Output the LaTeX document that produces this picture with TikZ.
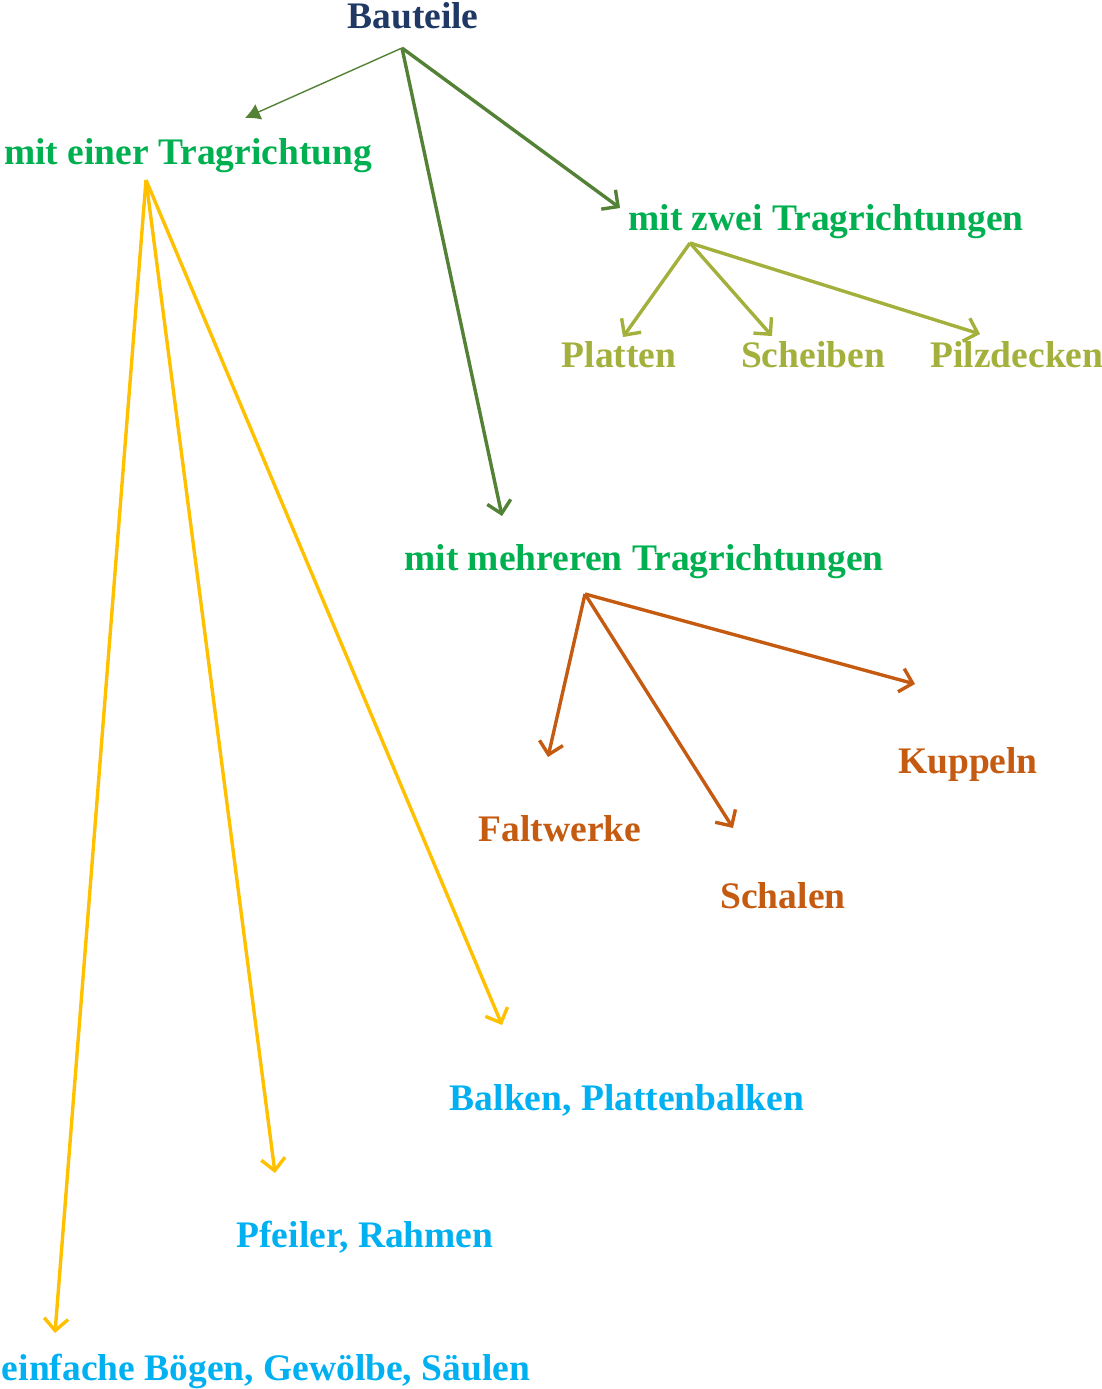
\documentclass[tikz,border=0pt]{standalone}
\usepackage{fontspec}
\setmainfont{Liberation Serif}
\usetikzlibrary{arrows.meta}
\definecolor{navy}{HTML}{1F3864}
\definecolor{leaf}{HTML}{00B050}
\definecolor{moss}{HTML}{538135}
\definecolor{olive}{HTML}{A3B03C}
\definecolor{rust}{HTML}{C55A11}
\definecolor{sky}{HTML}{00B0F0}
\definecolor{amber}{HTML}{FFC000}
\tikzset{
  lbl/.style={anchor=base, inner sep=0pt, font=\fontsize{37.5}{44}\selectfont\bfseries},
  barb/.style={line width=3.4pt, -{Straight Barb[length=12pt,width=24pt,line width=3.4pt]}},
}
\begin{document}
\begin{tikzpicture}[x=1pt, y=-1pt]
\useasboundingbox (0,0) rectangle (1102,1389);
% labels
\node[lbl, text=navy] (root) at (413,29) {Bauteile};
\node[lbl, text=leaf] (one) at (188,164) {mit einer Tragrichtung};
\node[lbl, text=leaf] (two) at (826,230) {mit zwei Tragrichtungen};
\node[lbl, text=leaf] (many) at (644,570) {mit mehreren Tragrichtungen};
\node[lbl, text=olive] (platten) at (619,367) {Platten};
\node[lbl, text=olive] (scheiben) at (813,367) {Scheiben};
\node[lbl, text=olive] (pilz) at (1017,367) {Pilzdecken};
\node[lbl, text=rust] (falt) at (560,841) {Faltwerke};
\node[lbl, text=rust] (schalen) at (783,908) {Schalen};
\node[lbl, text=rust] (kuppeln) at (968,773) {Kuppeln};
\node[lbl, text=sky] (balken) at (627,1110) {Balken, Plattenbalken};
\node[lbl, text=sky] (pfeiler) at (365,1247) {Pfeiler, Rahmen};
\node[lbl, text=sky] (boegen) at (266,1380) {einfache Bögen, Gewölbe, Säulen};
% branching points and arrow ends
\coordinate (rootS) at (402,48);
\coordinate (oneS) at (146,180);
\coordinate (twoS) at (690,243);
\coordinate (manyS) at (585,594);
\coordinate (oneT) at (245,118);
\coordinate (twoT) at (620,208);
\coordinate (manyT) at (502,516);
\coordinate (plattenT) at (623,337);
\coordinate (scheibenT) at (772,336);
\coordinate (pilzT) at (980,334);
\coordinate (faltT) at (548,757);
\coordinate (schalenT) at (733,828);
\coordinate (kuppelnT) at (915,684);
\coordinate (balkenT) at (502,1025);
\coordinate (pfeilerT) at (275,1173);
\coordinate (boegenT) at (55,1333);
% connectors
\draw[moss, line width=1.4pt, -{Latex[length=15pt,width=17pt]}] (rootS) -- (oneT);
\draw[moss, barb] (rootS) -- (twoT);
\draw[moss, barb] (rootS) -- (manyT);
\draw[olive, barb] (twoS) -- (plattenT);
\draw[olive, barb] (twoS) -- (scheibenT);
\draw[olive, barb] (twoS) -- (pilzT);
\draw[rust, barb] (manyS) -- (faltT);
\draw[rust, barb] (manyS) -- (schalenT);
\draw[rust, barb] (manyS) -- (kuppelnT);
\draw[amber, barb] (oneS) -- (balkenT);
\draw[amber, barb] (oneS) -- (pfeilerT);
\draw[amber, barb] (oneS) -- (boegenT);
\end{tikzpicture}
\end{document}
